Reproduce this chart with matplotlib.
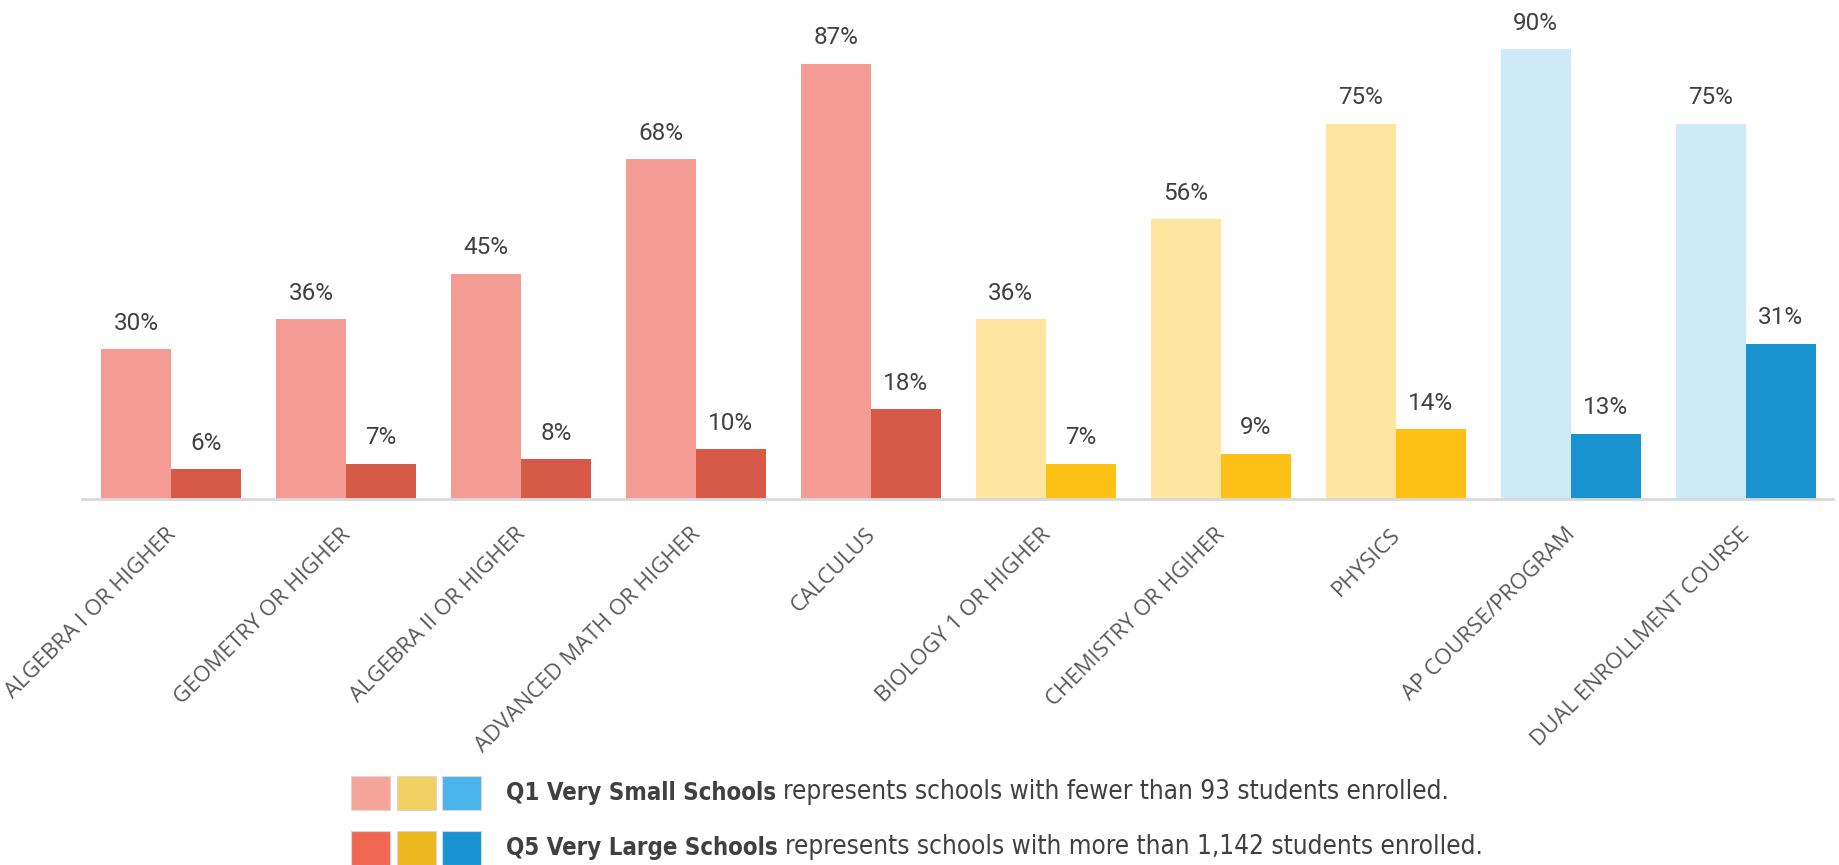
import numpy as np
import matplotlib
matplotlib.use('Agg')
import matplotlib.pyplot as plt
from matplotlib.patches import Rectangle
from matplotlib.transforms import ScaledTranslation

categories = ['ALGEBRA I OR HIGHER', 'GEOMETRY OR HIGHER', 'ALGEBRA II OR HIGHER',
              'ADVANCED MATH OR HIGHER', 'CALCULUS', 'BIOLOGY 1 OR HIGHER',
              'CHEMISTRY OR HGIHER', 'PHYSICS', 'AP COURSE/PROGRAM',
              'DUAL ENROLLMENT COURSE']
q1_small = [30, 36, 45, 68, 87, 36, 56, 75, 90, 75]
q5_large = [6, 7, 8, 10, 18, 7, 9, 14, 13, 31]
# subject group for each category: 0 math, 1 science, 2 advanced
group = [0, 0, 0, 0, 0, 1, 1, 1, 2, 2]

light_cols = ['#F49C93', '#FEE5A0', '#CEEAF8']
dark_cols = ['#D75A48', '#FDC115', '#1993D0']
legend_q1 = ['#F5A49A', '#F2D061', '#4BB4EA']
legend_q5 = ['#F06752', '#EDB81F', '#1993D1']

W, H = 1839, 865
fig = plt.figure(figsize=(W / 100, H / 100), dpi=100)
ax = fig.add_axes([82 / W, 1 - 499 / H, 1751 / W, 499 / H])

x = np.arange(len(categories))
bw = 0.4
b1 = ax.bar(x - bw / 2, q1_small, bw, color=[light_cols[g] for g in group])
b2 = ax.bar(x + bw / 2, q5_large, bw, color=[dark_cols[g] for g in group])

for bars, vals in [(b1, q1_small), (b2, q5_large)]:
    for r, v in zip(bars, vals):
        ax.annotate('%d%%' % v, (r.get_x() + r.get_width() / 2, v),
                    xytext=(0, 26), textcoords='offset pixels',
                    ha='center', va='center', fontsize=17.5,
                    color='#404040', family='Roboto')

ax.set_xlim(-0.51, 9.5)
ax.set_ylim(0, 99.8)
for s in ['top', 'right', 'left']:
    ax.spines[s].set_visible(False)
ax.spines['bottom'].set_color('#D9D9D9')
ax.spines['bottom'].set_linewidth(2)
ax.set_yticks([])
ax.set_xticks(x)
ax.set_xticklabels(categories, rotation=45, ha='right', rotation_mode='anchor',
                   fontsize=16, color='#595959', family='Open Sans')
ax.tick_params(axis='x', length=0, pad=18)
off = ScaledTranslation(-6 / 100, 0, fig.dpi_scale_trans)
for lab in ax.get_xticklabels():
    lab.set_transform(lab.get_transform() + off)

# legend built by hand
rows = [(793, legend_q1, 'Q1 Very Small Schools',
         'represents schools with fewer than 93 students enrolled.'),
        (848, legend_q5, 'Q5 Very Large Schools',
         'represents schools with more than 1,142 students enrolled.')]
for yc, cols, bold, rest in rows:
    for k, c in enumerate(cols):
        x0 = 351 + k * 45.5
        fig.patches.append(Rectangle((x0 / W, 1 - (yc + 17) / H), 39 / W, 34 / H,
                                     transform=fig.transFigure, facecolor=c,
                                     edgecolor='#D8D8D8', linewidth=0.8))
    t = fig.text(506 / W, 1 - yc / H, bold, fontsize=17.2, fontweight='bold',
                 color='#404040', va='center', ha='left',
                 family='DejaVu Sans', fontstretch='condensed')
    ax.annotate(rest, xy=(1, 0), xycoords=t, xytext=(7, 0),
                textcoords='offset pixels', va='bottom', ha='left',
                fontsize=18.7, color='#404040', family='DejaVu Sans',
                fontstretch='condensed', annotation_clip=False)

fig.savefig('out.png', dpi=100)
